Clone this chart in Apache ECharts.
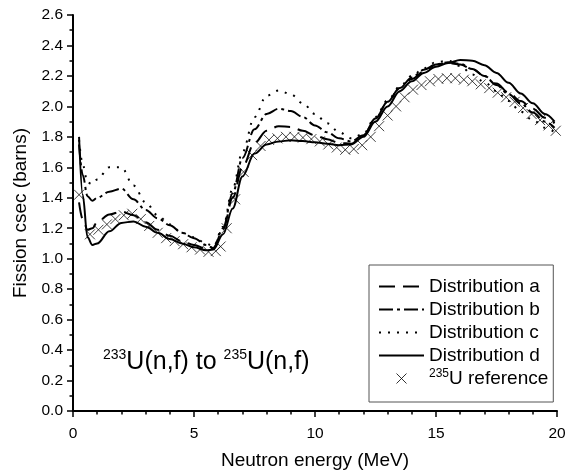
<!DOCTYPE html>
<html>
<head>
<meta charset="utf-8">
<script src="https://cdn.jsdelivr.net/npm/echarts@6/dist/echarts.min.js"></script>
<style>
  html, body { margin: 0; padding: 0; background: #fff; }
  #chart { width: 566px; height: 471px; }
</style>
</head>
<body>
<div id="chart"></div>
<script>
// energies (MeV) shared by the four distributions
var energy = [0.25, 0.4, 0.6, 0.8, 1.0, 1.5, 2.0, 2.5, 3.0, 3.5, 4.0, 4.5, 5.0, 5.5, 5.8,
  6.2, 6.6, 7.0, 7.5, 8.0, 8.5, 9.0, 9.5, 10, 10.5, 11, 11.5, 12, 12.5, 13, 13.5,
  14, 14.5, 15, 15.5, 16, 16.5, 17, 17.5, 18, 18.5, 19, 19.5, 19.9]

var distA = [1.37, 1.26, 1.19, 1.20, 1.24, 1.29, 1.31, 1.285, 1.24, 1.19, 1.15, 1.115, 1.09, 1.065, 1.07,
  1.19, 1.40, 1.60, 1.76, 1.84, 1.87, 1.865, 1.84, 1.81, 1.785, 1.76, 1.755, 1.81, 1.92, 2.03, 2.12,
  2.18, 2.23, 2.275, 2.285, 2.275, 2.245, 2.20, 2.15, 2.09, 2.035, 1.985, 1.925, 1.89]
var distB = [1.75, 1.55, 1.41, 1.38, 1.40, 1.44, 1.46, 1.39, 1.32, 1.265, 1.22, 1.17, 1.135, 1.09, 1.07,
  1.20, 1.43, 1.66, 1.85, 1.95, 1.985, 1.97, 1.93, 1.875, 1.83, 1.79, 1.77, 1.81, 1.92, 2.03, 2.12,
  2.19, 2.24, 2.275, 2.29, 2.28, 2.245, 2.20, 2.14, 2.08, 2.02, 1.96, 1.90, 1.86]
var distC = [1.78, 1.62, 1.50, 1.49, 1.52, 1.60, 1.60, 1.48, 1.37, 1.285, 1.225, 1.17, 1.14, 1.10, 1.08,
  1.21, 1.46, 1.70, 1.93, 2.07, 2.105, 2.08, 2.02, 1.95, 1.89, 1.83, 1.79, 1.82, 1.93, 2.04, 2.13,
  2.20, 2.25, 2.29, 2.30, 2.265, 2.21, 2.16, 2.10, 2.035, 1.965, 1.91, 1.86, 1.83]
var distD = [1.80, 1.42, 1.14, 1.09, 1.10, 1.18, 1.235, 1.245, 1.21, 1.17, 1.13, 1.10, 1.075, 1.055, 1.06,
  1.16, 1.33, 1.54, 1.69, 1.75, 1.77, 1.777, 1.772, 1.765, 1.755, 1.745, 1.75, 1.80, 1.90, 2.00, 2.10,
  2.165, 2.22, 2.26, 2.285, 2.305, 2.30, 2.27, 2.22, 2.155, 2.085, 2.02, 1.95, 1.90]

// 235U reference points
var refEnergy = [0.25, 0.7, 1.05, 1.4, 1.75, 2.1, 2.45, 2.8, 3.15, 3.5, 3.85, 4.2, 4.55, 4.9, 5.25, 5.6,
  5.9, 6.1, 6.35, 6.7, 7.05, 7.4, 7.75, 8.1, 8.45, 8.8, 9.15, 9.5, 9.85, 10.2, 10.55, 10.9, 11.25,
  11.6, 11.95, 12.3, 12.65, 13.0, 13.35, 13.7, 14.05, 14.4, 14.75, 15.1, 15.45, 15.8, 16.15, 16.5,
  16.85, 17.2, 17.55, 17.9, 18.25, 18.6, 18.95, 19.3, 19.65, 19.95]
var refValue = [1.42, 1.16, 1.19, 1.225, 1.26, 1.285, 1.295, 1.26, 1.215, 1.17, 1.135, 1.115, 1.095, 1.075, 1.06, 1.045,
  1.05, 1.08, 1.20, 1.39, 1.57, 1.68, 1.74, 1.78, 1.79, 1.80, 1.80, 1.795, 1.785, 1.77, 1.75, 1.73, 1.715,
  1.72, 1.745, 1.80, 1.87, 1.94, 2.00, 2.06, 2.11, 2.14, 2.165, 2.18, 2.185, 2.185, 2.175, 2.165,
  2.145, 2.12, 2.09, 2.06, 2.03, 1.99, 1.95, 1.91, 1.875, 1.84]

var names = ['Distribution a', 'Distribution b', 'Distribution c', 'Distribution d']
var refName = '235U reference'
var xTicks = [0, 20, 5]      // min, max, interval
var yTicks = [0, 2.6, 0.2]

var FONT = '"Liberation Sans", Arial, sans-serif'
var crossPath = 'path://M0,0L10,10M10,0L0,10'

function pairs(xs, ys) {
  return xs.map(function (x, i) { return [x, ys[i]] })
}

function lineSeries(name, values, dash) {
  return {
    name: name,
    type: 'line',
    data: pairs(energy, values),
    symbol: 'none',
    smooth: 0.35,
    smoothMonotone: 'x',
    lineStyle: {color: '#000', width: 2, type: dash},
    itemStyle: {color: '#000'}
  }
}

var chart = echarts.init(document.getElementById('chart'))
chart.setOption({
  animation: false,
  backgroundColor: '#fff',
  textStyle: {fontFamily: FONT},
  grid: {left: 73, right: 9, top: 15, bottom: 60, outerBoundsMode: 'none'},
  xAxis: {
    type: 'value',
    min: xTicks[0], max: xTicks[1], interval: xTicks[2],
    name: 'Neutron energy (MeV)',
    nameLocation: 'middle',
    nameGap: 40,
    nameTextStyle: {fontSize: 19, color: '#000', fontFamily: FONT},
    axisLine: {lineStyle: {color: '#000', width: 2}},
    axisTick: {inside: false, length: 6, lineStyle: {color: '#000', width: 1.5}},
    minorTick: {show: true, splitNumber: 5, length: 3.5, lineStyle: {color: '#000', width: 1.5}},
    splitLine: {show: false},
    axisLabel: {fontSize: 15.5, color: '#000', margin: 15, fontFamily: FONT}
  },
  yAxis: {
    type: 'value',
    min: yTicks[0], max: yTicks[1], interval: yTicks[2],
    name: 'Fission csec (barns)',
    nameLocation: 'middle',
    nameGap: 43,
    nameTextStyle: {fontSize: 19, color: '#000', fontFamily: FONT},
    axisLine: {show: true, lineStyle: {color: '#000', width: 2}},
    axisTick: {show: true, inside: false, length: 6, lineStyle: {color: '#000', width: 1.5}},
    minorTick: {show: true, splitNumber: 2, length: 3.5, lineStyle: {color: '#000', width: 1.5}},
    splitLine: {show: false},
    axisLabel: {
      fontSize: 15.5, color: '#000', margin: 10, fontFamily: FONT,
      formatter: function (v) { return v.toFixed(1) }
    }
  },
  legend: {
    orient: 'vertical',
    left: 369,
    top: 265,
    padding: [11, 5, 13, 9],
    borderColor: '#555',
    borderWidth: 1,
    itemWidth: 45,
    itemHeight: 10,
    itemGap: 2,
    textStyle: {
      fontSize: 19, lineHeight: 21, color: '#000', fontFamily: FONT,
      rich: {
        s: {fontSize: 12, lineHeight: 12, verticalAlign: 'top', color: '#000', fontFamily: FONT},
        n: {fontSize: 19, lineHeight: 21, color: '#000', fontFamily: FONT}
      }
    },
    formatter: function (name) {
      if (name === refName) return '{s|235}{n|U reference}'
      return name
    },
    data: names.map(function (n) {
      return {name: n, itemStyle: {opacity: 0}}
    }).concat([{
      name: refName,
      icon: crossPath,
      itemStyle: {color: 'transparent', borderColor: '#000', borderWidth: 1}
    }])
  },
  graphic: [{
    type: 'text',
    left: 103,
    top: 348,
    style: {
      text: '{s|233}{m|U(n,f) to }{s|235}{m|U(n,f)}',
      fill: '#000',
      font: '25px ' + FONT,
      rich: {
        s: {fontSize: 14, lineHeight: 14, verticalAlign: 'top', fill: '#000', fontFamily: FONT},
        m: {fontSize: 25, lineHeight: 28, fill: '#000', fontFamily: FONT}
      }
    }
  }],
  series: [
    lineSeries(names[0], distA, [16, 8]),
    lineSeries(names[1], distB, [14, 4, 3, 4]),
    lineSeries(names[2], distC, [2, 7]),
    lineSeries(names[3], distD, 'solid'),
    {
      name: refName,
      type: 'scatter',
      data: pairs(refEnergy, refValue),
      symbol: crossPath,
      symbolSize: 10,
      itemStyle: {color: 'transparent', borderColor: '#111', borderWidth: 1}
    }
  ]
})
</script>
</body>
</html>
